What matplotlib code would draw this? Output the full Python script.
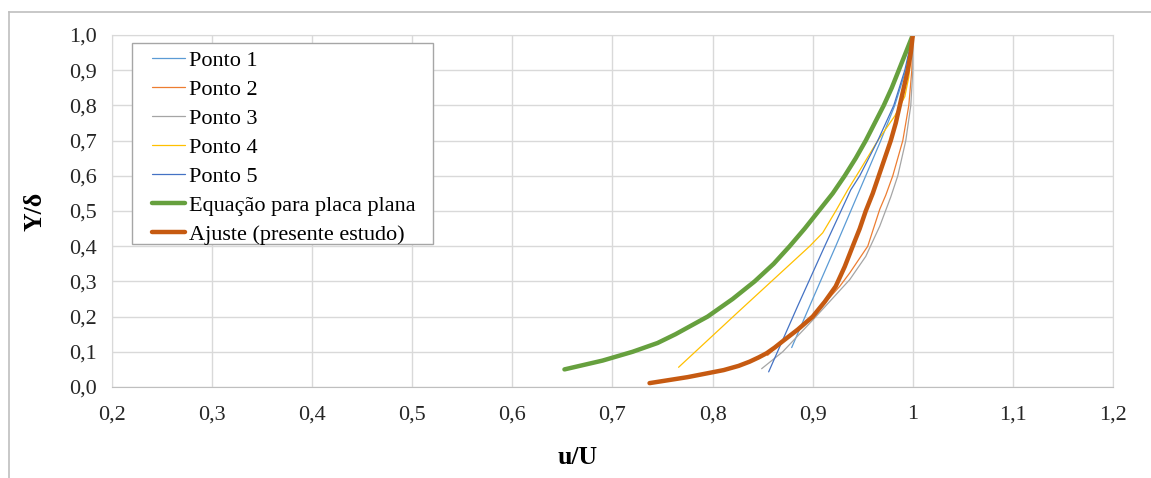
import matplotlib
matplotlib.use("Agg")
import matplotlib.pyplot as plt
from matplotlib.lines import Line2D
from matplotlib.patches import Rectangle

plt.rcParams['font.family'] = ['Liberation Serif', 'DejaVu Serif']

# velocity profiles (u/U , Y/delta)
p1_u = [0.879, 0.900, 0.923, 0.947, 0.953, 0.968, 0.982, 0.993, 1.000]
p1_y = [0.112, 0.250, 0.400, 0.560, 0.600, 0.700, 0.800, 0.900, 1.000]

p2_u = [0.855, 0.870, 0.885, 0.900, 0.927, 0.937, 0.955, 0.967, 0.973, 0.980, 0.990, 0.996, 0.999, 1.000]
p2_y = [0.090, 0.130, 0.165, 0.200, 0.286, 0.324, 0.400, 0.505, 0.545, 0.600, 0.700, 0.800, 0.900, 1.000]

p3_u = [0.849, 0.870, 0.900, 0.937, 0.953, 0.967, 0.978, 0.985, 0.993, 0.998, 1.000, 1.000]
p3_y = [0.052, 0.100, 0.190, 0.305, 0.371, 0.457, 0.540, 0.600, 0.700, 0.800, 0.900, 1.000]

p4_u = [0.766, 0.827, 0.897, 0.910, 0.923, 0.935, 0.948, 0.965, 0.982, 0.992, 0.996, 1.000]
p4_y = [0.056, 0.217, 0.400, 0.438, 0.500, 0.560, 0.620, 0.700, 0.770, 0.825, 0.880, 1.000]

p5_u = [0.856, 0.885, 0.912, 0.938, 0.947, 0.965, 0.981, 0.992, 1.000]
p5_y = [0.043, 0.230, 0.400, 0.560, 0.600, 0.700, 0.800, 0.900, 1.000]

eq_u = [0.652, 0.690, 0.720, 0.745, 0.763, 0.795, 0.820, 0.842, 0.861, 0.877, 0.892, 0.906,
        0.920, 0.932, 0.943, 0.953, 0.962, 0.971, 0.979, 0.986, 0.993, 1.000]
eq_y = [0.050, 0.075, 0.100, 0.125, 0.150, 0.200, 0.250, 0.300, 0.350, 0.400, 0.450, 0.500,
        0.550, 0.600, 0.650, 0.700, 0.750, 0.800, 0.850, 0.900, 0.950, 1.000]

fit_u = [0.737, 0.775, 0.811, 0.826, 0.837, 0.846, 0.854, 0.862, 0.870, 0.885, 0.900, 0.912,
         0.923, 0.932, 0.940, 0.947, 0.953, 0.960, 0.966, 0.972, 0.978, 0.983, 0.987, 0.991,
         0.995, 0.998, 1.000]
fit_y = [0.011, 0.028, 0.048, 0.060, 0.072, 0.084, 0.096, 0.112, 0.130, 0.163, 0.200, 0.242,
         0.286, 0.342, 0.400, 0.450, 0.500, 0.550, 0.600, 0.650, 0.700, 0.750, 0.800, 0.850,
         0.900, 0.950, 1.000]

series = [
    ("Ponto 1", p1_u, p1_y, "#5B9BD5", 0.9),
    ("Ponto 2", p2_u, p2_y, "#ED7D31", 0.9),
    ("Ponto 3", p3_u, p3_y, "#A5A5A5", 0.9),
    ("Ponto 4", p4_u, p4_y, "#FFC000", 0.9),
    ("Ponto 5", p5_u, p5_y, "#4472C4", 0.9),
    ("Equação para placa plana", eq_u, eq_y, "#66A03E", 3.2),
    ("Ajuste (presente estudo)", fit_u, fit_y, "#C65A11", 3.2),
]

x_ticks = [0.2, 0.3, 0.4, 0.5, 0.6, 0.7, 0.8, 0.9, 1.0, 1.1, 1.2]
x_labels = ["0,2", "0,3", "0,4", "0,5", "0,6", "0,7", "0,8", "0,9", "1", "1,1", "1,2"]
y_ticks = [0.0, 0.1, 0.2, 0.3, 0.4, 0.5, 0.6, 0.7, 0.8, 0.9, 1.0]
y_labels = ["0,0", "0,1", "0,2", "0,3", "0,4", "0,5", "0,6", "0,7", "0,8", "0,9", "1,0"]

W, H = 1151, 478
fig = plt.figure(figsize=(W / 100, H / 100), dpi=100)
ax = fig.add_axes([112 / W, 1 - 387 / H, (1113 - 112) / W, (387 - 35) / H])

for name, u, y, col, lw in series:
    ax.plot(u, y, color=col, lw=lw, label=name, solid_capstyle="round", solid_joinstyle="round")

ax.set_xlim(0.2, 1.2)
ax.set_ylim(0.0, 1.0)
ax.set_xticks(x_ticks)
ax.set_xticklabels(x_labels)
ax.set_yticks(y_ticks)
ax.set_yticklabels(y_labels)
ax.tick_params(axis="both", length=0, labelsize=16, colors="#262626")
ax.tick_params(axis="x", pad=13)
ax.tick_params(axis="y", pad=11)
ax.grid(True, color="#D9D9D9", lw=1.0)
ax.set_axisbelow(True)
for side in ["top", "right", "left"]:
    ax.spines[side].set_color("#D9D9D9")
ax.spines["bottom"].set_color("#BFBFBF")

ax.set_xlabel("u/U", fontsize=18.5, fontweight="bold")
ax.xaxis.set_label_coords((578 - 112) / 1001, -0.2)
ax.xaxis.label.set_va("center")
ax.set_ylabel("Y/δ", fontsize=18.5, fontweight="bold")
ax.yaxis.set_label_coords((35 - 112) / 1001, 0.5)
ax.yaxis.label.set_va("center")

# legend box (Excel style, wider side padding than matplotlib gives)
box = Rectangle((0.020, 0.406), 0.3007, 0.571, transform=ax.transAxes, facecolor="white",
                edgecolor="#A6A6A6", lw=1.0, zorder=4)
ax.add_patch(box)
leg = ax.legend(loc="upper left", bbox_to_anchor=(0.040, 0.956), borderaxespad=0, borderpad=0,
                fontsize=16, handlelength=1.5, handletextpad=0.15, labelspacing=0.38,
                frameon=False)
leg.set_zorder(5)

# chart area border
fig.add_artist(Line2D([9 / W, 9 / W], [0, 1 - 12 / H], color="#BFBFBF", lw=1.2))
fig.add_artist(Line2D([9 / W, 1], [1 - 12 / H, 1 - 12 / H], color="#BFBFBF", lw=1.2))

fig.savefig("out.png", dpi=100)
